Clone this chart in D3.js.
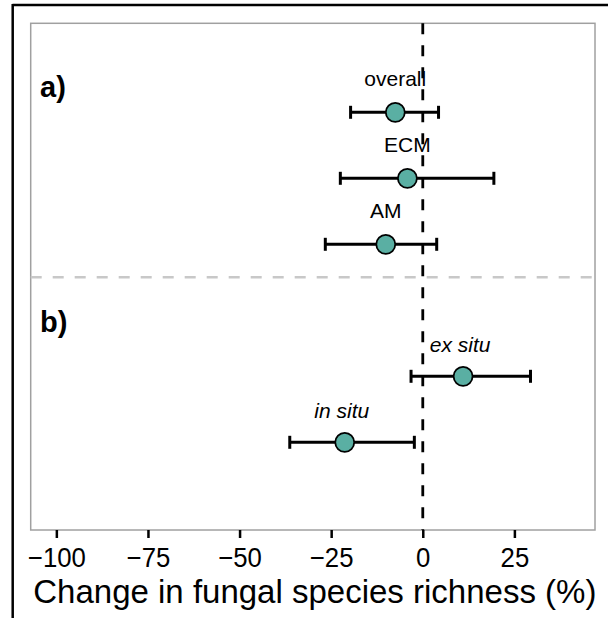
<!DOCTYPE html>
<html><head><meta charset="utf-8">
<script src="https://cdnjs.cloudflare.com/ajax/libs/d3/7.8.5/d3.min.js"></script>
<style>body{margin:0;background:#fff}svg{display:block}text{font-family:"Liberation Sans",Arial,sans-serif}</style>
</head><body>
<script>
const labels = ["overall","ECM","AM","ex situ","in situ"];
const slots = [0,1,2,4,5];
const italic = [false,false,false,true,true];
const means = [-7.5,-4.2,-10.1,11.0,-21.3];
const lower = [-19.7,-22.5,-26.6,-3.2,-36.3];
const upper = [4.3,19.4,3.8,29.4,-2.3];
const xTicks = [-100,-75,-50,-25,0,25];
const panelLabels = ["a)","b)"];
const panelLabelSlots = [-0.23,3.33];
const dividerSlot = 2.5;

const W=608,H=618;
const svg=d3.select("body").append("svg").attr("width",W).attr("height",H);
const L=30.7,R=595,T=23.3,B=530;
const x=d3.scaleLinear().domain([-107,47]).range([L,R]);
const y=d3.scaleLinear().domain([0,5]).range([112.3,442.3]);

// outer frame (top + left)
svg.append("line").attr("x1",12.5).attr("x2",W).attr("y1",5).attr("y2",5).attr("stroke","#000").attr("stroke-width",2.5);
svg.append("line").attr("x1",12.7).attr("x2",12.7).attr("y1",4).attr("y2",H).attr("stroke","#000").attr("stroke-width",2.5);

// panel border
svg.append("rect").attr("x",L).attr("y",T).attr("width",R-L).attr("height",B-T)
  .attr("fill","none").attr("stroke","#a0a0a0").attr("stroke-width",1.5);

// divider
svg.append("line").attr("x1",L).attr("x2",R).attr("y1",y(dividerSlot)).attr("y2",y(dividerSlot))
  .attr("stroke","#c8c8c8").attr("stroke-width",2.5).attr("stroke-dasharray","11,11");

// zero line
svg.append("line").attr("x1",x(0)).attr("x2",x(0)).attr("y1",T).attr("y2",B)
  .attr("stroke","#000").attr("stroke-width",2.8).attr("stroke-dasharray","11,11");

// axis
const ax=svg.append("g").attr("transform",`translate(0,${B})`)
  .call(d3.axisBottom(x).tickValues(xTicks).tickSize(8).tickPadding(9).tickFormat(d=>d<0?"\u2212"+Math.abs(d):String(d)));
ax.select(".domain").remove();
ax.selectAll(".tick line").attr("stroke","#000").attr("stroke-width",2.5);
ax.selectAll(".tick text").attr("fill","#000").style("font-size","28px")
  .attr("transform","scale(0.92,1)").style("font-family","'Liberation Sans',Arial,sans-serif");

svg.append("text").attr("x",(L+R)/2+2).attr("y",603).attr("text-anchor","middle")
  .style("font-size","33px").attr("fill","#000").text("Change in fungal species richness (%)");

// panel labels
svg.selectAll(".pl").data(panelLabels).join("text").attr("class","pl")
  .attr("x",40).attr("y",(d,i)=>y(panelLabelSlots[i])).style("font-size","29px").style("font-weight","bold")
  .attr("fill","#000").text(d=>d);

const data=labels.map((l,i)=>({l,s:slots[i],m:means[i],lo:lower[i],hi:upper[i],it:italic[i]}));
const g=svg.append("g");
data.forEach(d=>{
  const yy=y(d.s);
  g.append("line").attr("x1",x(d.lo)).attr("x2",x(d.hi)).attr("y1",yy).attr("y2",yy).attr("stroke","#000").attr("stroke-width",3);
  [d.lo,d.hi].forEach(v=>g.append("line").attr("x1",x(v)).attr("x2",x(v)).attr("y1",yy-6.5).attr("y2",yy+6.5).attr("stroke","#000").attr("stroke-width",3));
  g.append("circle").attr("cx",x(d.m)).attr("cy",yy).attr("r",9.5).attr("fill","#5aafa3").attr("stroke","#000").attr("stroke-width",1.8);
  g.append("text").attr("x",x(d.m)+(d.it?-3:0)).attr("y",yy-(d.it?24:26)).attr("text-anchor","middle")
    .style("font-size","21px").style("font-style",d.it?"italic":"normal").attr("fill","#000").text(d.l);
});
</script>
</body></html>
